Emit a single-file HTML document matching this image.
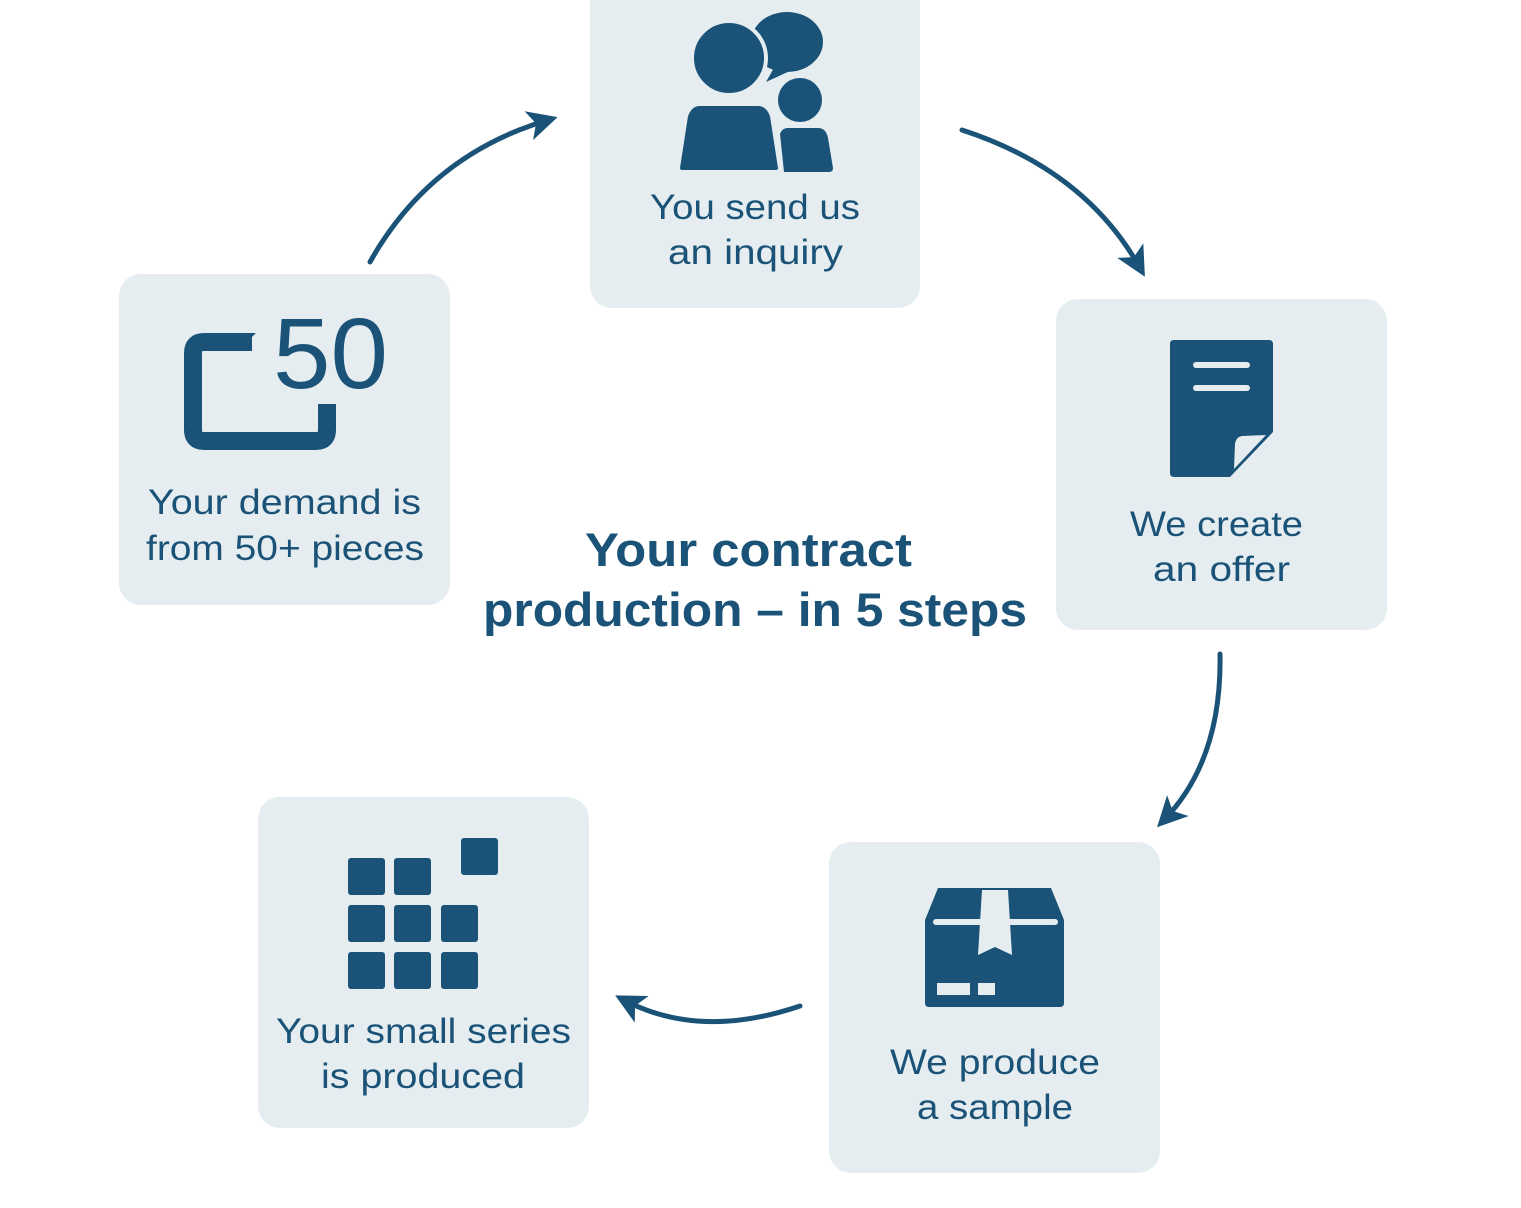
<!DOCTYPE html>
<html><head><meta charset="utf-8"><style>
html,body{margin:0;padding:0;background:#fff}
svg{display:block}
text{font-family:"Liberation Sans",sans-serif;fill:#1a5377}
</style></head><body>
<svg width="1521" height="1208" viewBox="0 0 1521 1208" xmlns="http://www.w3.org/2000/svg">
<defs>
<marker id="ah" viewBox="0 0 12 12" refX="8" refY="6" markerWidth="6" markerHeight="6" orient="auto" markerUnits="strokeWidth">
<path d="M0,0 L12,6 L0,12 L3,6 Z" fill="#1a5377"/>
</marker>
</defs>
<g fill="#e6edf1">
<rect x="590" y="-30" width="330" height="338" rx="22"/>
<rect x="1056" y="299" width="331" height="331" rx="22"/>
<rect x="829" y="842" width="331" height="331" rx="22"/>
<rect x="258" y="797" width="331" height="331" rx="22"/>
<rect x="119" y="274" width="331" height="331" rx="22"/>
</g>
<g fill="#1a5377">
<ellipse cx="787" cy="42" rx="36" ry="30"/>
<path d="M775,66 L766,82 L792,70 Z"/>
<circle cx="729" cy="58" r="37" stroke="#e6edf1" stroke-width="4"/>
<path d="M700,104 H758 Q768,104 772,116 L780,168 Q780,172 776,172 H682 Q678,172 678,168 L686,116 Q690,104 700,104 Z" stroke="#e6edf1" stroke-width="4"/>
<circle cx="800" cy="100" r="22"/>
<path d="M788,128 H818 Q826,128 828,138 L833,168 Q833,172 829,172 H784 L780,134 Q782,128 788,128 Z"/>
<!-- document -->
<path d="M1174,340 H1269 Q1273,340 1273,344 V432 L1230,477 H1174 Q1170,477 1170,473 V344 Q1170,340 1174,340 Z"/>
<path d="M1242,436 L1266,435 L1234,469 L1235,444 Q1236,437 1242,436 Z" fill="#e6edf1"/>
<rect x="1193" y="362" width="57" height="6" rx="3" fill="#e6edf1"/>
<rect x="1193" y="385" width="57" height="6" rx="3" fill="#e6edf1"/>
<!-- box -->
<path d="M938,888 H1051 L1064,920 V1003 Q1064,1007 1060,1007 H929 Q925,1007 925,1003 V920 Z"/>
<rect x="933" y="919" width="125" height="6" rx="3" fill="#e6edf1"/>
<path d="M982,890 H1008 L1012,955 L995,947 L978,955 Z" fill="#e6edf1"/>
<rect x="937" y="983" width="33" height="12" fill="#e6edf1"/>
<rect x="978" y="983" width="17" height="12" fill="#e6edf1"/>
<!-- grid -->
<rect x="348" y="858" width="37" height="37" rx="3"/>
<rect x="394" y="858" width="37" height="37" rx="3"/>
<rect x="348" y="905" width="37" height="37" rx="3"/>
<rect x="394" y="905" width="37" height="37" rx="3"/>
<rect x="441" y="905" width="37" height="37" rx="3"/>
<rect x="348" y="952" width="37" height="37" rx="3"/>
<rect x="394" y="952" width="37" height="37" rx="3"/>
<rect x="441" y="952" width="37" height="37" rx="3"/>
<rect x="461" y="838" width="37" height="37" rx="3"/>
</g>
<path d="M252,342 H204 Q193,342 193,353 V430 Q193,441 204,441 H316 Q327,441 327,430 V404" fill="none" stroke="#1a5377" stroke-width="18"/>
<path d="M236,333 L256,333 L238,351 Z" fill="#1a5377"/>
<text x="273" y="388" font-size="100" textLength="115" lengthAdjust="spacingAndGlyphs">50</text>
<g font-size="35">
<text x="650" y="219" textLength="210" lengthAdjust="spacingAndGlyphs">You send us</text>
<text x="668" y="264" textLength="175" lengthAdjust="spacingAndGlyphs">an inquiry</text>
<text x="1130" y="536" textLength="173" lengthAdjust="spacingAndGlyphs">We create</text>
<text x="1153" y="581" textLength="137" lengthAdjust="spacingAndGlyphs">an offer</text>
<text x="890" y="1074" textLength="210" lengthAdjust="spacingAndGlyphs">We produce</text>
<text x="917" y="1119" textLength="156" lengthAdjust="spacingAndGlyphs">a sample</text>
<text x="276" y="1043" textLength="295" lengthAdjust="spacingAndGlyphs">Your small series</text>
<text x="321" y="1088" textLength="204" lengthAdjust="spacingAndGlyphs">is produced</text>
<text x="148" y="514" textLength="273" lengthAdjust="spacingAndGlyphs">Your demand is</text>
<text x="146" y="560" textLength="278" lengthAdjust="spacingAndGlyphs">from 50+ pieces</text>
</g>
<g font-size="47" font-weight="bold">
<text x="585" y="566" textLength="327" lengthAdjust="spacingAndGlyphs">Your contract</text>
<text x="483" y="626" textLength="544" lengthAdjust="spacingAndGlyphs">production – in 5 steps</text>
</g>
<g fill="none" stroke="#1a5377" stroke-width="5" stroke-linecap="round">
<path d="M370,262 Q430,155 548,120" marker-end="url(#ah)"/>
<path d="M962,130 Q1085,170 1140,268" marker-end="url(#ah)"/>
<path d="M1220,654 Q1222,760 1164,820" marker-end="url(#ah)"/>
<path d="M800,1006 Q700,1040 624,1000" marker-end="url(#ah)"/>
</g>
</svg>
</body></html>
